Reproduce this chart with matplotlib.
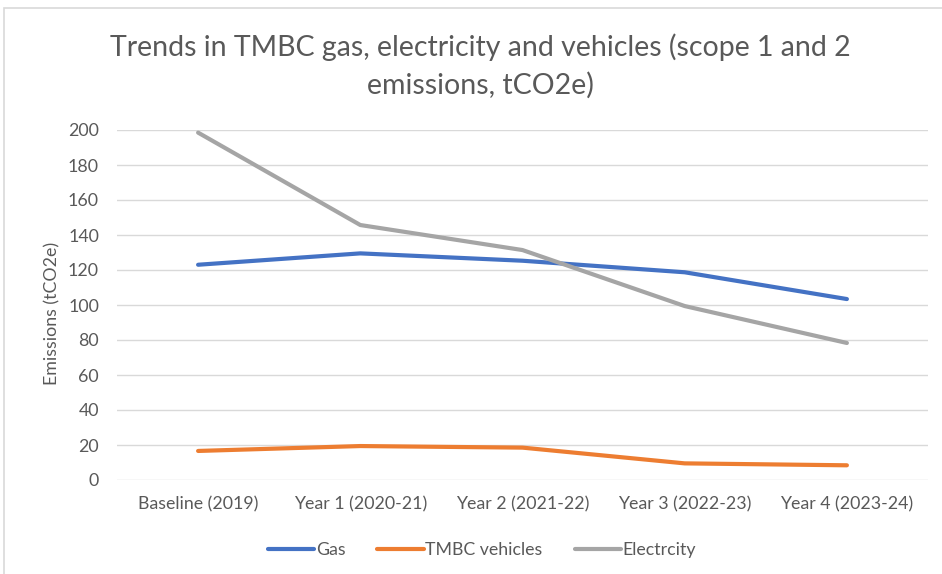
import matplotlib
matplotlib.use('Agg')
import matplotlib.pyplot as plt
from matplotlib.patches import Rectangle

categories = ['Baseline (2019)', 'Year 1 (2020-21)', 'Year 2 (2021-22)',
              'Year 3 (2022-23)', 'Year 4 (2023-24)']
gas = [123.0, 129.5, 125.3, 118.7, 103.4]
vehicles = [16.6, 19.4, 18.5, 9.5, 8.4]
electricity = [198.5, 145.7, 131.4, 99.4, 78.3]
series_labels = ['Gas', 'TMBC vehicles', 'Electrcity']
yticks = list(range(0, 201, 20))

text_col = '#595959'
plt.rcParams['font.family'] = ['Lato', 'DejaVu Sans']

fig = plt.figure(figsize=(9.42, 5.74), dpi=100)
fig.patches.append(Rectangle((4 / 942, -0.1), 1.2, 1 - 8 / 574 + 0.1,
                             transform=fig.transFigure, fill=False,
                             edgecolor='#d9d9d9', linewidth=1.2))

ax = fig.add_axes([117 / 942, 1 - 480 / 574, 811 / 942, 350 / 574])
x = list(range(len(categories)))
ax.plot(x, gas, color='#4472C4', lw=3, solid_capstyle='round', label=series_labels[0])
ax.plot(x, vehicles, color='#ED7D31', lw=3, solid_capstyle='round', label=series_labels[1])
ax.plot(x, electricity, color='#A5A5A5', lw=3, solid_capstyle='round', label=series_labels[2])

ax.set_xlim(-0.5, 4.5)
ax.set_ylim(0, 200)
ax.set_yticks(yticks)
ax.set_xticks(x)
ax.set_xticklabels(categories)
ax.grid(axis='y', color='#d9d9d9', lw=1)
ax.set_axisbelow(True)
for s in ax.spines.values():
    s.set_visible(False)
ax.tick_params(length=0, colors=text_col, labelsize=12.8)
ax.tick_params(axis='x', pad=12)
ax.tick_params(axis='y', pad=13)
ax.set_ylabel('Emissions (tCO2e)', color=text_col, fontsize=12.8, labelpad=4)
ax.yaxis.set_label_coords(-(117 - 60) / 811, 0.475)

title_x = 480 / 942
fig.text(title_x, 1 - 47 / 574, 'Trends in TMBC gas, electricity and vehicles (scope 1 and 2',
         ha='center', va='center', color=text_col, fontsize=20.5)
fig.text(title_x, 1 - 85 / 574, 'emissions, tCO2e)',
         ha='center', va='center', color=text_col, fontsize=20.5)

ax.legend(loc='center', bbox_to_anchor=((482 - 117) / 811, -(550 - 480) / 350), ncol=3,
          frameon=False, fontsize=12.8, labelcolor=text_col, handlelength=2.6,
          handletextpad=0.1, columnspacing=1.8)

fig.savefig('out.png', dpi=100)
